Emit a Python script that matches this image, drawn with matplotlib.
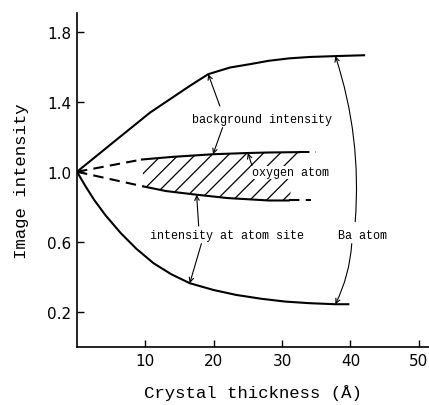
import matplotlib
matplotlib.use("Agg")
import matplotlib.pyplot as plt
from matplotlib.patches import Polygon

# thickness (Angstrom) and image intensity
bg_thick = [0, 3, 6, 10.7, 13.6, 16.5, 19.2, 22.4, 25.3, 28, 31, 34, 37.8, 42]
bg_int = [1.0, 1.095, 1.19, 1.338, 1.414, 1.49, 1.557, 1.595, 1.614, 1.633, 1.647,
          1.655, 1.66, 1.665]

ba_thick = [0, 1.2, 2.5, 4.2, 6.4, 8.7, 11.2, 13.8, 16.5, 20, 23.3, 27, 30.5, 34, 37.8, 39.7]
ba_int = [1.0, 0.92, 0.84, 0.75, 0.65, 0.56, 0.478, 0.415, 0.364, 0.325, 0.297, 0.275,
          0.259, 0.25, 0.244, 0.244]

# oxygen site: solid part is computed, dashed ends are extrapolation
oxu_thick = [0, 9.5, 14, 19.9, 25, 28.1, 32.5, 35]
oxu_int = [1.0, 1.07, 1.085, 1.10, 1.107, 1.11, 1.112, 1.112]
oxl_thick = [0, 9.75, 13, 17.5, 22, 28.1, 31, 34.2]
oxl_int = [1.0, 0.916, 0.89, 0.869, 0.85, 0.836, 0.836, 0.836]

x_ticks = [10, 20, 30, 40, 50]
y_ticks = [0.2, 0.6, 1.0, 1.4, 1.8]

mono = "Liberation Mono"

fig = plt.figure(figsize=(4.29, 4.06), dpi=100)
ax = fig.add_axes([0.1795, 0.1429, 0.8205, 0.8226])

lw = 1.5
ax.plot(bg_thick, bg_int, color="black", lw=lw)
ax.plot(ba_thick, ba_int, color="black", lw=lw)

# oxygen curves: dashed from origin, solid in the middle, dashed tail
for xs, ys in [(oxu_thick, oxu_int), (oxl_thick, oxl_int)]:
    ax.plot(xs[:2], ys[:2], color="black", lw=lw, dashes=(5, 3))
    ax.plot(xs[1:-1], ys[1:-1], color="black", lw=lw)
    ax.plot(xs[-2:], ys[-2:], color="black", lw=lw, dashes=(5, 3))

# hatched band between the solid oxygen curves
band = list(zip(oxu_thick[1:-1], oxu_int[1:-1])) + \
    list(zip(oxl_thick[1:-1], oxl_int[1:-1]))[::-1]
plt.rcParams["hatch.linewidth"] = 0.9
ax.add_patch(Polygon(band, closed=True, fill=False, hatch="//",
                     edgecolor="black", linewidth=0))

arrow = dict(arrowstyle="->", color="black", lw=0.8, mutation_scale=8,
             shrinkA=0, shrinkB=0)

def pointer(target, start, rad=0.0):
    props = dict(arrow, connectionstyle=f"arc3,rad={rad}")
    ax.annotate("", xy=target, xytext=start, arrowprops=props)

txt = dict(family=mono, fontsize=8.5, ha="center", va="center")

ax.text(27.1, 1.30, "background intensity", **txt)
pointer((bg_thick[6], bg_int[6]), (20.9, 1.375))
pointer((oxu_thick[3], oxu_int[3]), (21.3, 1.252))

ax.text(31.2, 0.997, "oxygen atom",
        bbox=dict(fc="white", ec="none", pad=0.5), **txt)
pointer((oxu_thick[4], oxu_int[4]), (25.6, 1.035))

ax.text(21.9, 0.64, "intensity at atom site", **txt)
pointer((oxl_thick[3], oxl_int[3]), (17.8, 0.69))
pointer((ba_thick[8], ba_int[8]), (18.2, 0.59))

ax.text(41.7, 0.64, "Ba atom", **txt)
pointer((bg_thick[12], bg_int[12]), (40.7, 0.715), rad=0.1)
pointer((ba_thick[14], ba_int[14]), (40.2, 0.59), rad=-0.1)

ax.set_xlim(0, 51.5)
ax.set_ylim(0, 1.906)
ax.set_xticks(x_ticks)
ax.set_yticks(y_ticks)
ax.set_yticklabels([f"{v:.1f}" for v in y_ticks])
ax.tick_params(direction="in", length=5, width=1, labelsize=11, pad=4)
for side in ("top", "right"):
    ax.spines[side].set_visible(False)
for side in ("left", "bottom"):
    ax.spines[side].set_linewidth(1.2)

ax.set_xlabel("Crystal thickness (Å)", family=mono, fontsize=12.5, labelpad=12)
ax.set_ylabel("Image intensity", family=mono, fontsize=12.5, labelpad=13)

fig.savefig("out.png", dpi=100)
